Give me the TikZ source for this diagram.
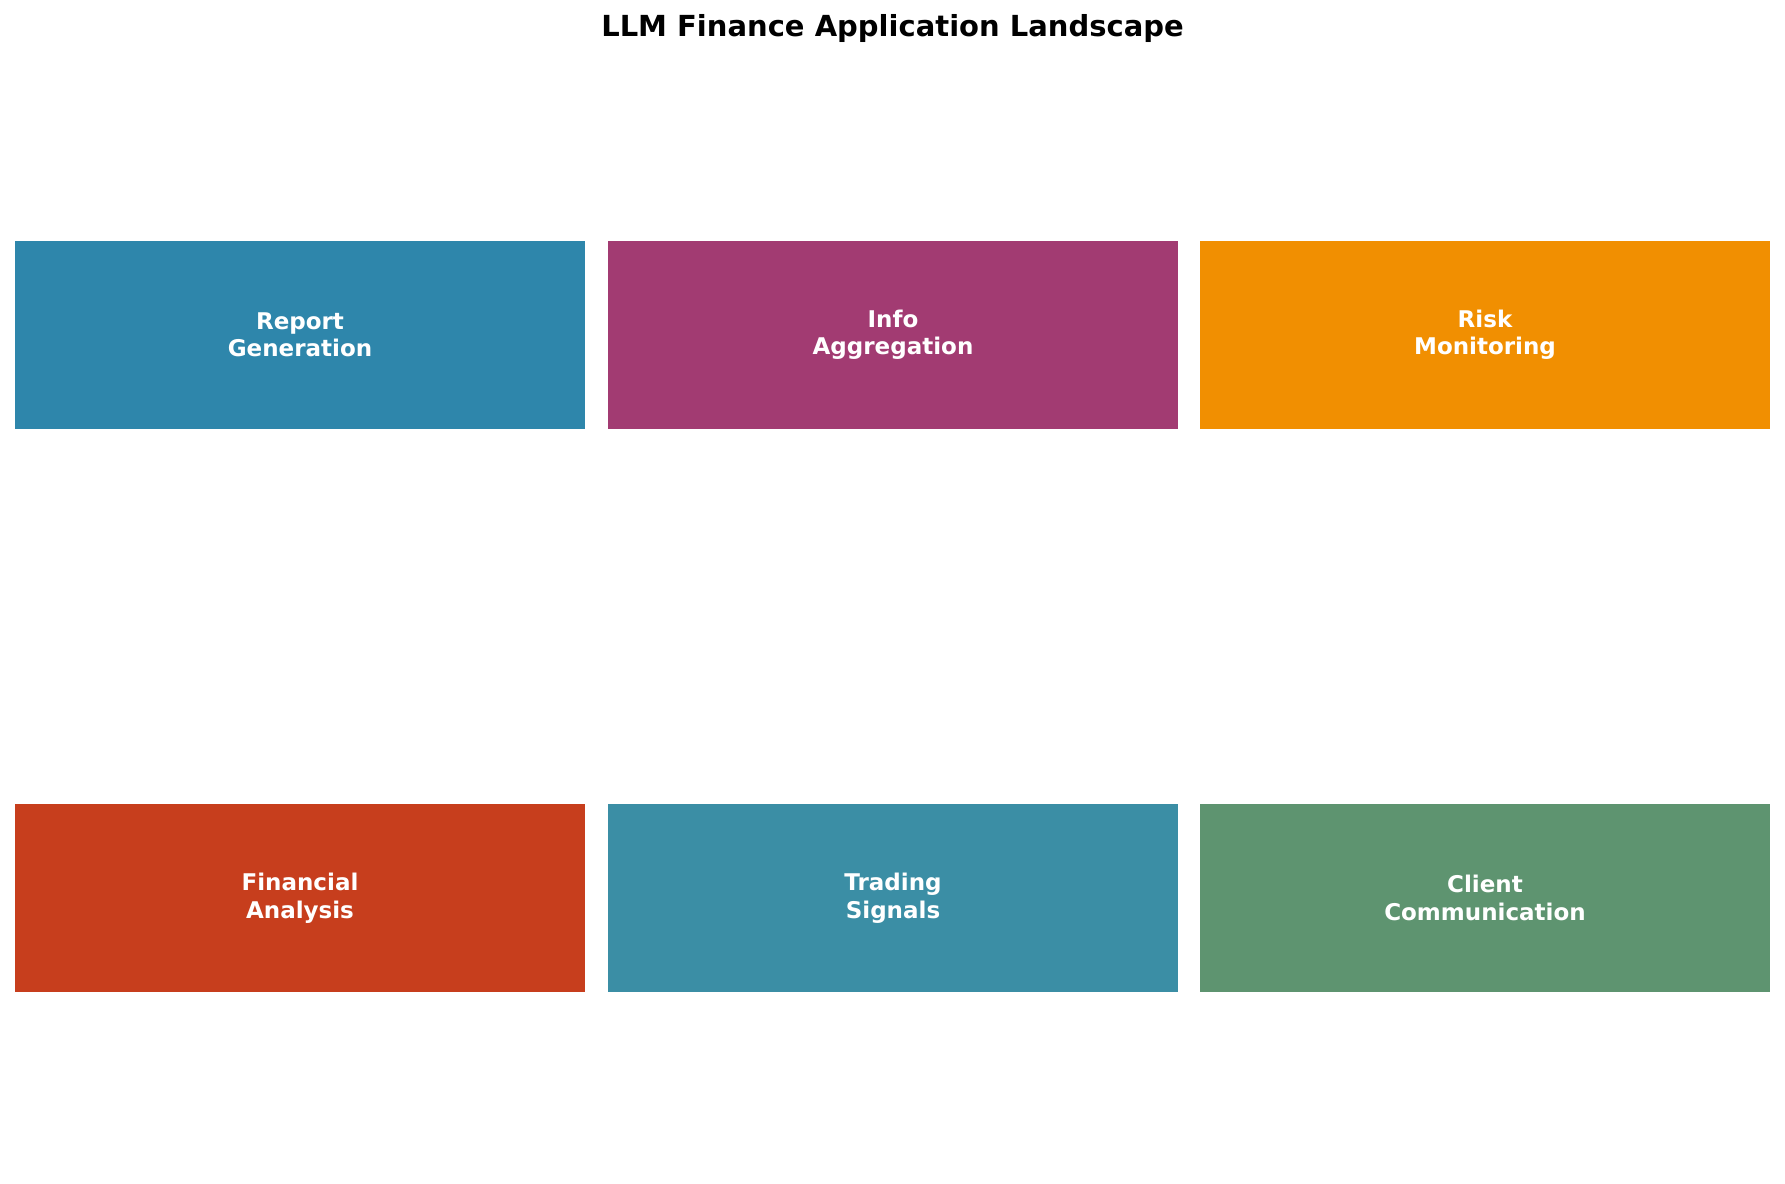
\documentclass[tikz,border=0pt]{standalone}
\usepackage{fontspec}
\setmainfont{DejaVu Sans}
\usepackage{tikz}
\usetikzlibrary{positioning}

\definecolor{reportblue}{HTML}{2E86AB}
\definecolor{infopurple}{HTML}{A23B72}
\definecolor{riskorange}{HTML}{F18F01}
\definecolor{analysisred}{HTML}{C73E1D}
\definecolor{tradingblue}{HTML}{3B8EA5}
\definecolor{clientgreen}{HTML}{5E9470}

\begin{document}
\begin{tikzpicture}[x=1pt, y=1pt,
    appbox/.style={rectangle, minimum width=570pt, minimum height=188pt,
        inner sep=0pt, outer sep=0pt, align=center, text=white,
        font=\fontsize{23}{27.5}\selectfont\bfseries},
    ]
    \useasboundingbox (0,0) rectangle (1785,1183);
    \node [font=\fontsize{29}{34}\selectfont\bfseries] (title) at (892.5,1154) {LLM Finance Application Landscape};
    % top row
    \node [appbox, fill=reportblue] (report) at (300,848) {Report\\Generation};
    \node [appbox, fill=infopurple, right=23pt of report] (info) {Info\\Aggregation};
    \node [appbox, fill=riskorange, right=22pt of info] (risk) {Risk\\Monitoring};
    % bottom row
    \node [appbox, fill=analysisred, below=375pt of report] (analysis) {Financial\\Analysis};
    \node [appbox, fill=tradingblue, right=23pt of analysis] (trading) {Trading\\Signals};
    \node [appbox, fill=clientgreen, right=22pt of trading] (client) {Client\\Communication};
\end{tikzpicture}
\end{document}
